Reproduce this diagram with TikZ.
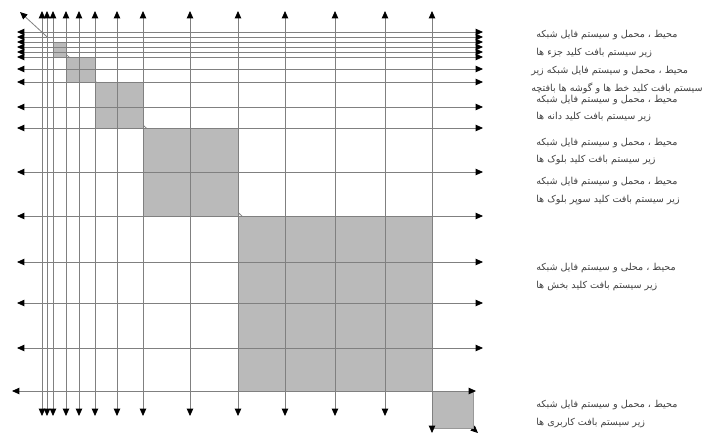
\documentclass[tikz,border=0pt]{standalone}
\usepackage{fontspec}
\usetikzlibrary{arrows.meta}
\newfontfamily\arabicfont[Script=Arabic]{DejaVu Sans}
\TeXXeTstate=1

\tikzset{
  tip/.tip={Triangle[length=5.5pt,width=4.8pt,color=black]},
  gridln/.style={draw=black!50, line width=0.6pt, tip-tip},
  blk/.style={fill=black!27, draw=black!40, line width=0.4pt},
  lbl/.style={anchor=west, align=left, inner sep=0pt, text=black!75,
    font=\arabicfont\fontsize{7.2}{13}\selectfont},
}

\begin{document}
\begin{tikzpicture}[x=0.75pt,y=-0.75pt]
\useasboundingbox (0,0) rectangle (706,436);
% diagonal:
\draw[gridln] (20,12) -- (478,433);
% shaded blocks:
\draw[blk, fill=white] (47,37) rectangle (53,42);
\draw[blk] (53,42) rectangle (66,57);
\draw[blk] (66,57) rectangle (95,82);
\draw[blk] (95,82) rectangle (143,128);
\draw[blk] (143,128) rectangle (238,216);
\draw[blk] (238,216) rectangle (432,391);
\draw[blk] (432,391) rectangle (473,428);
% horizontal lines:
\foreach \y in {32,37,42,47,52,57,69,82,107,128,172,216,262,303,348}
  \draw[gridln] (17,\y) -- (483,\y);
\draw[gridln] (12,391) -- (476,391);
% vertical lines:
\foreach \x in {42,47,53,66,79,95,117,143,190,238,285,335,385}
  \draw[gridln] (\x,11) -- (\x,416);
\draw[gridln] (432,11) -- (432,433);
% labels:
\node[lbl] (lbl1) at (536,44) {\beginR محیط ، محمل و سیستم فایل شبکه\endR\\\beginR زیر سیستم بافت کلید جزء ها\endR};
\node[lbl] (lbl2) at (531,80) {\beginR محیط ، محمل و سیستم فایل شبکه زیر\endR\\\beginR سیستم بافت کلید خط ها و گوشه ها بافتچه\endR};
\node[lbl] (lbl3) at (536,108.5) {\beginR محیط ، محمل و سیستم فایل شبکه\endR\\\beginR زیر سیستم بافت کلید دانه ها\endR};
\node[lbl] (lbl4) at (536,151.5) {\beginR محیط ، محمل و سیستم فایل شبکه\endR\\\beginR زیر سیستم بافت کلید بلوک ها\endR};
\node[lbl] (lbl5) at (536,191) {\beginR محیط ، محمل و سیستم فایل شبکه\endR\\\beginR زیر سیستم بافت کلید سوپر بلوک ها\endR};
\node[lbl] (lbl6) at (536,277) {\beginR محیط ، محلی و سیستم فایل شبکه\endR\\\beginR زیر سیستم بافت کلید بخش ها\endR};
\node[lbl] (lbl7) at (536,414) {\beginR محیط ، محمل و سیستم فایل شبکه\endR\\\beginR زیر سیستم بافت کاربری ها\endR};
\end{tikzpicture}
\end{document}
